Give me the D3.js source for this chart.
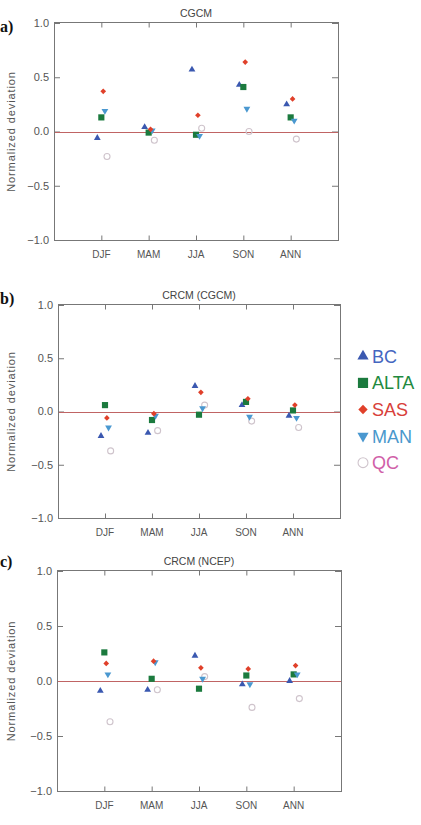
<!DOCTYPE html>
<html>
<head>
<meta charset="utf-8">
<script src="https://cdn.jsdelivr.net/npm/d3@7"></script>
<style>
  body { margin: 0; background: #fff; }
  svg { display: block; }
</style>
</head>
<body>
<svg width="421" height="825"></svg>
<script>
const seasons = ["DJF", "MAM", "JJA", "SON", "ANN"];
const regions = ["BC", "ALTA", "SAS", "MAN", "QC"];
const yTicks = [1.0, 0.5, 0.0, -0.5, -1.0];

// normalized deviation per region, one value per season
const cgcmBC   = [-0.06, 0.04, 0.57, 0.43, 0.25];
const cgcmALTA = [0.13, -0.01, -0.03, 0.41, 0.13];
const cgcmSAS  = [0.37, 0.02, 0.15, 0.64, 0.30];
const cgcmMAN  = [0.19, 0.01, -0.04, 0.21, 0.10];
const cgcmQC   = [-0.23, -0.08, 0.03, 0.00, -0.07];

const crcmCgcmBC   = [-0.23, -0.20, 0.24, 0.06, -0.04];
const crcmCgcmALTA = [0.06, -0.08, -0.03, 0.09, 0.01];
const crcmCgcmSAS  = [-0.06, -0.02, 0.18, 0.12, 0.06];
const crcmCgcmMAN  = [-0.15, -0.04, 0.03, -0.05, -0.06];
const crcmCgcmQC   = [-0.37, -0.18, 0.06, -0.09, -0.15];

const crcmNcepBC   = [-0.09, -0.08, 0.23, -0.03, 0.00];
const crcmNcepALTA = [0.26, 0.02, -0.07, 0.05, 0.06];
const crcmNcepSAS  = [0.16, 0.18, 0.12, 0.11, 0.14];
const crcmNcepMAN  = [0.06, 0.17, 0.02, -0.03, 0.06];
const crcmNcepQC   = [-0.37, -0.08, 0.04, -0.24, -0.16];

const colors = {
    BC: "#3a58b0",
    ALTA: "#1b7a3e",
    SAS: "#e0402a",
    MAN: "#4a98d0",
    QC: "#cfc4cc"
};
const textColors = {
    BC: "#4466c0",
    ALTA: "#1f8a40",
    SAS: "#d8403a",
    MAN: "#4a98cc",
    QC: "#d060a8"
};
// small sideways shift of each region inside a season (in season units)
const offsets = { BC: -0.085, ALTA: 0, SAS: 0.04, MAN: 0.075, QC: 0.12 };

const panels = [
    { label: "a)", labelY: 32, title: "CGCM", x0: 54, x1: 338, y0: 23, y1: 240,
      values: [cgcmBC, cgcmALTA, cgcmSAS, cgcmMAN, cgcmQC] },
    { label: "b)", labelY: 304, title: "CRCM (CGCM)", x0: 58, x1: 340, y0: 305, y1: 518,
      values: [crcmCgcmBC, crcmCgcmALTA, crcmCgcmSAS, crcmCgcmMAN, crcmCgcmQC] },
    { label: "c)", labelY: 567, title: "CRCM (NCEP)", x0: 57, x1: 341, y0: 571, y1: 791,
      values: [crcmNcepBC, crcmNcepALTA, crcmNcepSAS, crcmNcepMAN, crcmNcepQC] }
];

const svg = d3.select("svg");
const fmt = d3.format(".1f");

function marker(g, region, scale) {
    const k = scale || 1;
    if (region === "BC") {
        g.append("path").attr("d", d3.symbol(d3.symbolTriangle, 20 * k * k))
            .attr("fill", colors.BC);
    } else if (region === "ALTA") {
        g.append("path").attr("d", d3.symbol(d3.symbolSquare, 38 * k * k))
            .attr("fill", colors.ALTA);
    } else if (region === "SAS") {
        // square turned on its corner
        g.append("path").attr("d", d3.symbol(d3.symbolSquare, 16 * k * k))
            .attr("transform", "rotate(45)")
            .attr("fill", colors.SAS);
    } else if (region === "MAN") {
        g.append("path").attr("d", d3.symbol(d3.symbolTriangle, 20 * k * k))
            .attr("transform", "rotate(180)")
            .attr("fill", colors.MAN);
    } else {
        g.append("circle").attr("r", 3 * k)
            .attr("fill", "none")
            .attr("stroke", colors.QC)
            .attr("stroke-width", 1.1);
    }
}

function drawPanel(p) {
    const x = d3.scaleLinear().domain([0, 6]).range([p.x0, p.x1]);
    const y = d3.scaleLinear().domain([-1, 1]).range([p.y1, p.y0]);
    const g = svg.append("g");

    // frame
    g.append("rect")
        .attr("x", p.x0 + 0.5).attr("y", p.y0 - 0.5)
        .attr("width", p.x1 - p.x0).attr("height", p.y1 - p.y0 + 1)
        .attr("fill", "none").attr("stroke", "#777").attr("stroke-width", 1);

    // inward ticks
    const yAxisL = d3.axisRight(y).tickValues(yTicks).tickSize(6).tickFormat("");
    const yAxisR = d3.axisLeft(y).tickValues(yTicks).tickSize(6).tickFormat("");
    const xAxisB = d3.axisTop(x).tickValues([1, 2, 3, 4, 5]).tickSize(5).tickFormat("");
    const xAxisT = d3.axisBottom(x).tickValues([1, 2, 3, 4, 5]).tickSize(5).tickFormat("");
    [
        [yAxisL, `translate(${p.x0},0)`],
        [yAxisR, `translate(${p.x1},0)`],
        [xAxisB, `translate(0,${p.y1 + 0.5})`],
        [xAxisT, `translate(0,${p.y0 - 0.5})`]
    ].forEach(([ax, tr]) => {
        const a = g.append("g").attr("transform", tr).call(ax);
        a.select(".domain").remove();
        a.selectAll("line").attr("stroke", "#777");
    });

    // tick labels
    g.selectAll(".ylab").data(yTicks).enter().append("text")
        .attr("x", p.x0 - 5).attr("y", d => y(d)).attr("dy", "0.35em")
        .attr("text-anchor", "end")
        .style("font", "11px 'Liberation Sans', Arial, sans-serif")
        .attr("fill", "#555")
        .text(d => fmt(d));
    g.selectAll(".xlab").data(seasons).enter().append("text")
        .attr("x", (d, i) => x(i + 1)).attr("y", p.y1 + 18)
        .attr("text-anchor", "middle")
        .style("font", "10px 'Liberation Sans', Arial, sans-serif")
        .attr("fill", "#555")
        .text(d => d);

    // title, axis title, panel label
    g.append("text")
        .attr("x", (p.x0 + p.x1) / 2).attr("y", p.y0 - 6)
        .attr("text-anchor", "middle")
        .style("font", "10.5px 'Liberation Sans', Arial, sans-serif")
        .attr("fill", "#444")
        .text(p.title);
    g.append("text")
        .attr("transform", `translate(15,${(p.y0 + p.y1) / 2}) rotate(-90)`)
        .attr("text-anchor", "middle")
        .style("font", "11px 'Liberation Sans', Arial, sans-serif")
        .style("letter-spacing", "0.9px")
        .attr("fill", "#555")
        .text("Normalized deviation");
    g.append("text")
        .attr("x", 0).attr("y", p.labelY)
        .style("font", "bold 16px 'Liberation Serif', 'Times New Roman', serif")
        .attr("fill", "#111")
        .text(p.label);

    // zero line
    const y0 = Math.round(y(0)) + 0.5;
    g.append("line")
        .attr("x1", p.x0 + 1).attr("x2", p.x1)
        .attr("y1", y0).attr("y2", y0)
        .attr("stroke", "#c06464").attr("stroke-width", 1.1);

    // points, drawn QC first so filled markers sit on top
    const order = [4, 0, 1, 3, 2];
    order.forEach(ri => {
        const region = regions[ri];
        p.values[ri].forEach((v, si) => {
            const m = g.append("g")
                .attr("transform", `translate(${x(si + 1 + offsets[region])},${y(v)})`);
            marker(m, region, 1);
        });
    });
}

panels.forEach(drawPanel);

// legend beside the middle panel
const legend = svg.append("g");
const legendY = d3.scaleBand().domain(regions).range([343, 476]);
regions.forEach(r => {
    const row = legend.append("g")
        .attr("transform", `translate(363,${legendY(r) + legendY.bandwidth() / 2})`);
    marker(row, r, 1.65);
    row.append("text")
        .attr("x", 9).attr("dy", "0.36em")
        .style("font", "18px 'Liberation Sans', Arial, sans-serif")
        .attr("fill", textColors[r])
        .text(r);
});
</script>
</body>
</html>
